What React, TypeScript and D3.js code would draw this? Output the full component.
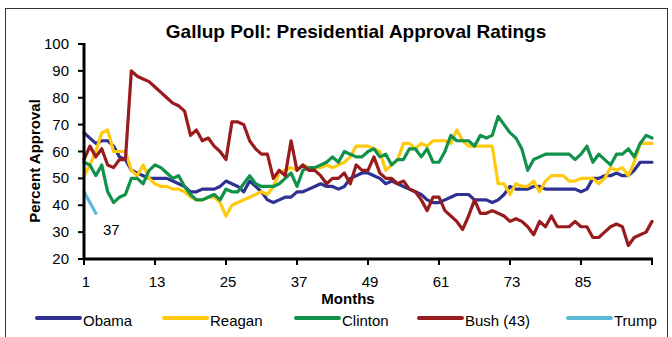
import React from "react";
import * as d3 from "d3";

const months = d3.range(1, 98);
const obama = [
  67, 65, 63, 64, 64, 62, 58, 57, 53, 52,
  51, 50, 50, 50, 50, 49, 48, 47, 45, 45,
  46, 46, 46, 47, 49, 48, 47, 45, 49, 47,
  45, 42, 41, 42, 43, 43, 45, 45, 46, 47,
  48, 47, 47, 46, 47, 50, 51, 52, 52, 51,
  50, 48, 49, 48, 47, 46, 45, 44, 42, 41,
  41, 42, 43, 44, 44, 44, 42, 42, 42, 41,
  42, 44, 47, 46, 46, 46, 47, 47, 46, 46,
  46, 46, 46, 46, 45, 46, 50, 50, 51, 51,
  52, 51, 51, 53, 56, 56, 56,
];
const reagan = [
  51, 55, 60, 67, 68, 60, 60, 60, 53, 51,
  55, 50, 48, 47, 47, 46, 46, 45, 43, 42,
  42, 43, 43, 41, 36, 40, 41, 42, 43, 44,
  45, 44, 47, 52, 53, 54, 53, 55, 54, 54,
  54, 55, 54, 55, 56, 58, 62, 62, 62, 61,
  60, 53, 55, 57, 63, 63, 61, 63, 62, 64,
  64, 64, 63, 68, 64, 62, 62, 62, 62, 62,
  48, 48, 44, 48, 47, 47, 49, 45, 49, 51,
  51, 51, 49, 49, 50, 50, 50, 48, 50, 54,
  53, 54, 51, 56, 63, 63, 63,
];
const clinton = [
  56, 55, 51, 55, 45, 41, 43, 44, 50, 50,
  48, 53, 55, 54, 52, 50, 51, 47, 44, 42,
  42, 43, 44, 42, 46, 45, 45, 48, 51, 48,
  47, 47, 47, 48, 50, 52, 47, 53, 54, 54,
  55, 56, 58, 56, 60, 59, 58, 58, 60, 61,
  58, 59, 55, 57, 57, 61, 61, 58, 61, 56,
  56, 60, 66, 64, 64, 64, 62, 66, 65, 66,
  73, 70, 67, 65, 61, 53, 57, 58, 59, 59,
  59, 59, 59, 57, 59, 62, 56, 59, 57, 55,
  59, 59, 61, 58, 63, 66, 65,
];
const bush = [
  57, 62, 58, 61, 55, 54, 57, 57, 90, 88,
  87, 86, 84, 82, 80, 78, 77, 75, 66, 68,
  64, 65, 62, 60, 57, 71, 71, 70, 64, 61,
  59, 59, 50, 53, 51, 64, 53, 55, 53, 53,
  51, 48, 50, 50, 52, 48, 55, 53, 53, 58,
  52, 50, 50, 48, 49, 46, 45, 42, 38, 43,
  43, 38, 36, 34, 31, 36, 42, 37, 37, 38,
  37, 36, 34, 35, 34, 32, 29, 34, 32, 36,
  32, 32, 32, 34, 32, 32, 28, 28, 30, 32,
  33, 32, 25, 28, 29, 30, 34,
];
const trump = [45, 41, 37];
const trumpLabel = "37";

const seriesNames = ["Obama", "Reagan", "Clinton", "Bush (43)", "Trump"];
const yTickValues = [20, 30, 40, 50, 60, 70, 80, 90, 100];
const xTickValues = [1, 13, 25, 37, 49, 61, 73, 85];
const xEnd = 97;

const COLORS = ["#2E3192", "#FFC90E", "#10924A", "#981B1E", "#5BBAD6"];
const LEGEND_X = [37, 164, 296, 419, 568];

export default function App() {
  const x = d3.scaleLinear().domain([1, xEnd]).range([84, 652]);
  const y = d3.scaleLinear().domain([20, 100]).range([259, 44]);
  const line = d3
    .line<number>()
    .x((_, i) => x(months[i]))
    .y((d) => y(d));
  const data = [obama, reagan, clinton, bush, trump];
  const font = "'Liberation Sans', Arial, sans-serif";

  return (
    <svg
      width={672}
      height={337}
      style={{ position: "absolute", left: 0, top: 0, fontFamily: font }}
    >
      <rect x={0} y={0} width={672} height={337} fill="#fff" />
      <rect x={5.5} y={8.5} width={662} height={340} fill="none" stroke="#333" strokeWidth={1} />
      <text x={356} y={38} textAnchor="middle" fontSize={19} fontWeight="bold" fill="#000">
        Gallup Poll: Presidential Approval Ratings
      </text>

      {/* y axis */}
      {yTickValues.map((v) => (
        <g key={"y" + v}>
          <line x1={78} x2={84} y1={y(v)} y2={y(v)} stroke="#000" strokeWidth={2} />
          <text x={69} y={y(v) + 5} textAnchor="end" fontSize={15} fill="#000">
            {v}
          </text>
        </g>
      ))}
      <text
        transform={`translate(40,161) rotate(-90)`}
        textAnchor="middle"
        fontSize={15}
        fontWeight="bold"
        fill="#000"
      >
        Percent Approval
      </text>

      {/* x axis ticks */}
      {[...xTickValues, xEnd].map((v) => (
        <line key={"xt" + v} x1={x(v)} x2={x(v)} y1={259} y2={265} stroke="#000" strokeWidth={2} />
      ))}
      {xTickValues.map((v) => (
        <text key={"xl" + v} x={x(v) + 2} y={287} textAnchor="middle" fontSize={15} fill="#000">
          {v}
        </text>
      ))}
      <text x={348} y={304} textAnchor="middle" fontSize={15} fontWeight="bold" fill="#000">
        Months
      </text>

      {/* series */}
      {data.map((s, i) => (
        <path
          key={"s" + i}
          d={line(s) || ""}
          fill="none"
          stroke={COLORS[i]}
          strokeWidth={3.2}
          strokeLinejoin="round"
          strokeLinecap="round"
        />
      ))}
      <text x={103} y={235} fontSize={15} fill="#000">
        {trumpLabel}
      </text>

      {/* axes lines */}
      <line x1={84} x2={84} y1={43} y2={260} stroke="#000" strokeWidth={3} />
      <line x1={83} x2={653} y1={259} y2={259} stroke="#000" strokeWidth={3} />

      {/* legend */}
      {seriesNames.map((n, i) => (
        <g key={"lg" + i}>
          <line
            x1={LEGEND_X[i]}
            x2={LEGEND_X[i] + 43}
            y1={318}
            y2={318}
            stroke={COLORS[i]}
            strokeWidth={4}
            strokeLinecap="round"
          />
          <text x={LEGEND_X[i] + 46} y={326} fontSize={15} fill="#000">
            {n}
          </text>
        </g>
      ))}
    </svg>
  );
}
